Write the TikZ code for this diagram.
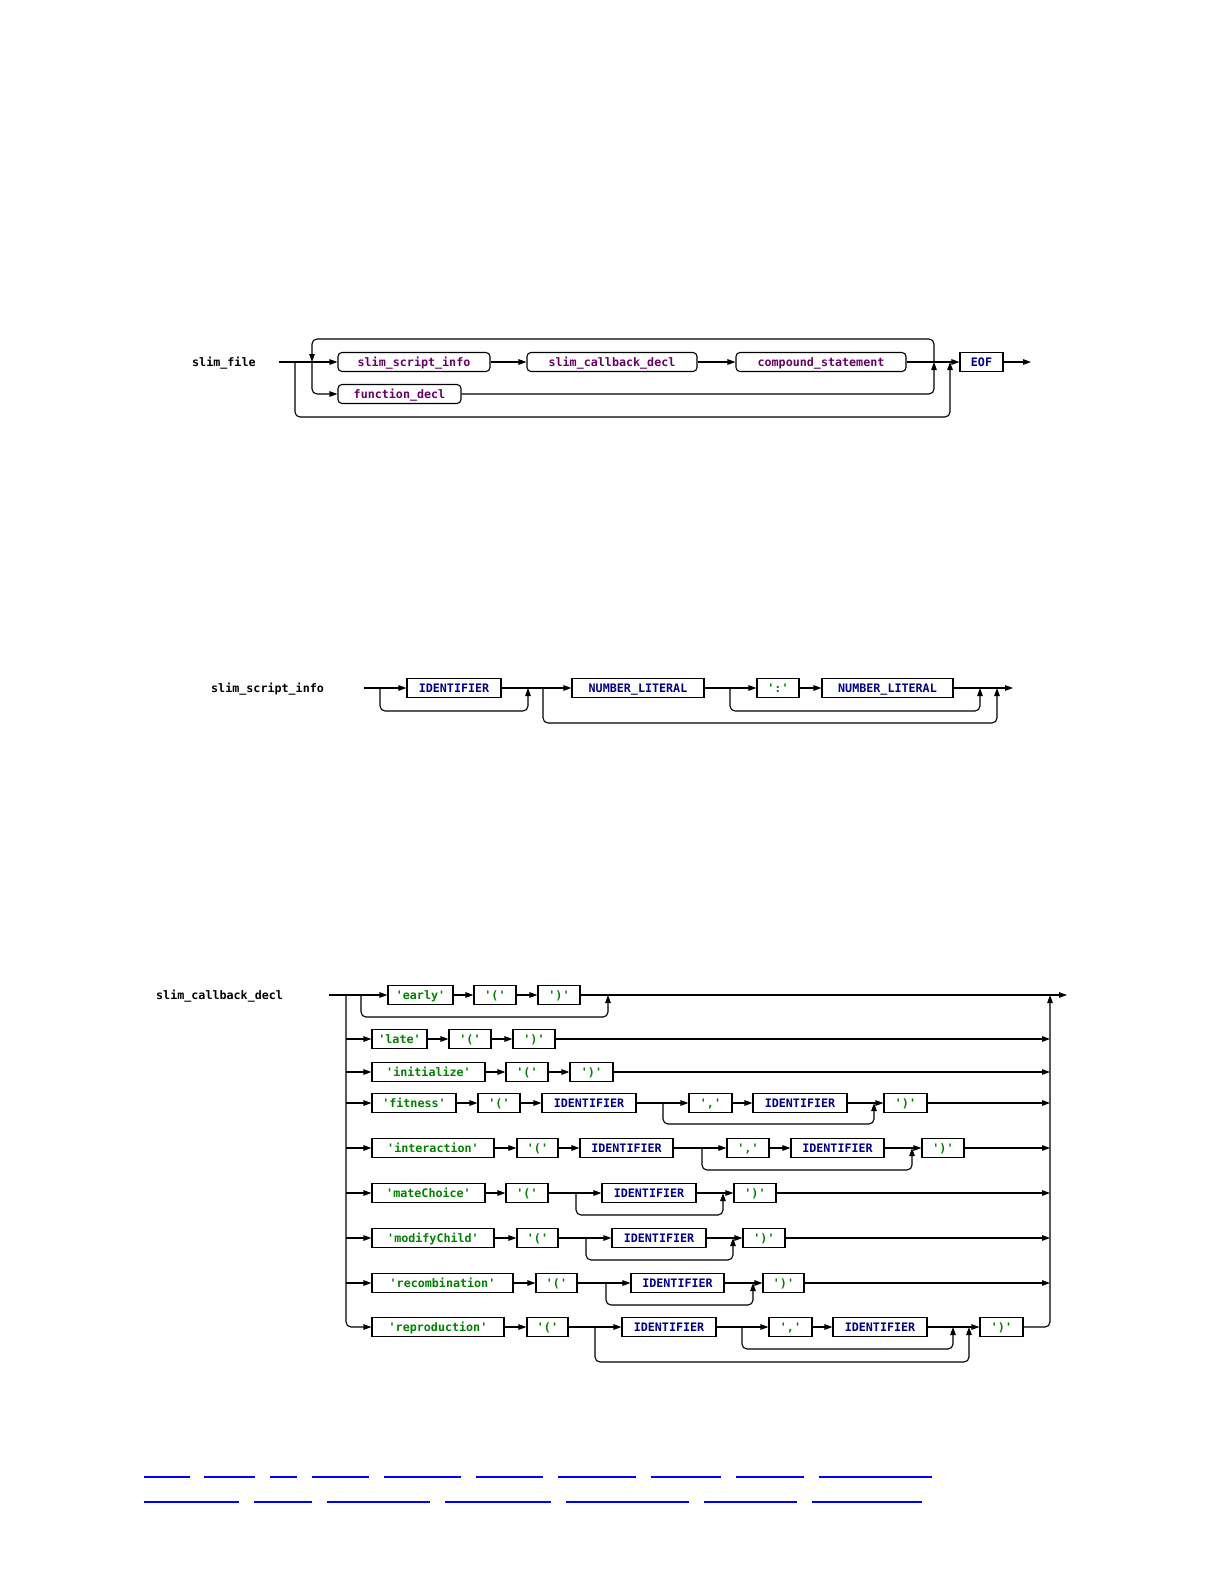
\documentclass[tikz,border=0pt]{standalone}
\usepackage{fontspec}
\newfontfamily\rrfont[BoldFont={DejaVu Sans Mono Bold}]{DejaVu Sans Mono}
\usetikzlibrary{arrows.meta}
\definecolor{ntcol}{HTML}{660066}
\definecolor{tkcol}{HTML}{000080}
\definecolor{ltcol}{HTML}{008000}
\definecolor{lnkcol}{HTML}{0000FF}
\tikzset{
  rr/.style={line width=1.1pt, -{Triangle[length=8pt,width=5.5pt]}},
  rc/.style={rounded corners=5pt},
  boxbase/.style={draw, line width=1.1pt, minimum height=19pt, inner xsep=0pt, inner ysep=0pt,
    text height=11pt, text depth=2pt,
    font=\rrfont\bfseries\fontsize{11.7}{14}\selectfont},
  ntbox/.style={boxbase, rounded corners=4pt, text=ntcol},
  tkbox/.style={boxbase, text=tkcol},
  ltbox/.style={boxbase, text=ltcol},
  lbl/.style={anchor=west, inner sep=0pt, text height=11pt, text depth=2pt,
    font=\rrfont\bfseries\fontsize{11.7}{14}\selectfont},
  lnk/.style={draw=lnkcol, line width=1.3pt}
}
\newcommand{\bx}[6]{\node[#2, minimum width={(#4-#3)*1pt}] (#1) at ({(#3+#4)/2},#5) {#6};}
\begin{document}
\begin{tikzpicture}[x=1pt,y=-1pt]
\useasboundingbox (0,0) rectangle (1224,1584);

% ---------------- slim_file ----------------
\node[lbl] (lab1) at (192,362) {slim\_file};
\coordinate (s1) at (279,362);
\coordinate (s1b) at (295,362);
\coordinate (s1c) at (312,362);
\coordinate (j1a) at (934,362);
\coordinate (j1b) at (950,362);
\coordinate (e1) at (1031,362);
\bx{ssi}{ntbox}{338}{490}{362}{slim\_script\_info}
\bx{scd}{ntbox}{527}{697}{362}{slim\_callback\_decl}
\bx{cst}{ntbox}{736}{906}{362}{compound\_statement}
\bx{fdl}{ntbox}{338}{461}{394}{function\_decl}
\bx{eof}{tkbox}{960}{1003}{362}{EOF}
\draw[rr] (s1) -- (ssi.west);
\draw[rr] (ssi.east) -- (scd.west);
\draw[rr] (scd.east) -- (cst.west);
\draw[rr] (cst.east) -- (eof.west);
\draw[rr] (eof.east) -- (e1);
\draw[rr,rc] (j1a) |- (312,339) -- (s1c);
\draw[rr,rc] (s1c) |- (fdl.west);
\draw[rr,rc] (fdl.east) -| (j1a);
\draw[rr,rc] (s1b) |- (950,417) -- (j1b);

% ---------------- slim_script_info ----------------
\node[lbl] (lab2) at (211,688) {slim\_script\_info};
\coordinate (s2) at (364,688);
\coordinate (b2a) at (380,688);
\coordinate (j2a) at (528,688);
\coordinate (b2b) at (543,688);
\coordinate (j2b) at (997,688);
\coordinate (b2c) at (730,688);
\coordinate (j2c) at (980,688);
\coordinate (e2) at (1013,688);
\bx{sid}{tkbox}{407}{501}{688}{IDENTIFIER}
\bx{snl}{tkbox}{572}{704}{688}{NUMBER\_LITERAL}
\bx{scol}{ltbox}{757}{799}{688}{':'}
\bx{snlb}{tkbox}{822}{953}{688}{NUMBER\_LITERAL}
\draw[rr] (s2) -- (sid.west);
\draw[rr,rc] (b2a) |- (528,711) -- (j2a);
\draw[rr] (sid.east) -- (snl.west);
\draw[rr,rc] (b2b) |- (997,723) -- (j2b);
\draw[rr] (snl.east) -- (scol.west);
\draw[rr,rc] (b2c) |- (980,711) -- (j2c);
\draw[rr] (scol.east) -- (snlb.west);
\draw[rr] (snlb.east) -- (e2);

% ---------------- slim_callback_decl ----------------
\node[lbl] (lab3) at (156,995) {slim\_callback\_decl};
\coordinate (s3) at (329,995);
\coordinate (v3) at (346,995);
\coordinate (b3) at (361,995);
\coordinate (j3) at (608,995);
\coordinate (r3) at (1050,995);
\coordinate (e3) at (1067,995);
% row 1
\bx{early}{ltbox}{388}{453}{995}{'early'}
\bx{lpa}{ltbox}{474}{516}{995}{'('}
\bx{rpa}{ltbox}{538}{580}{995}{')'}
\draw[rr] (s3) -- (early.west);
\draw[rr,rc] (b3) |- (608,1017) -- (j3);
\draw[rr] (early.east) -- (lpa.west);
\draw[rr] (lpa.east) -- (rpa.west);
\draw[rr] (rpa.east) -- (e3);
% row 2
\bx{late}{ltbox}{372}{427}{1039}{'late'}
\bx{lpb}{ltbox}{449}{491}{1039}{'('}
\bx{rpb}{ltbox}{513}{555}{1039}{')'}
\coordinate (vb) at (346,1039);
\coordinate (rb) at (1050,1039);
\draw[rr] (vb) -- (late.west);
\draw[rr] (late.east) -- (lpb.west);
\draw[rr] (lpb.east) -- (rpb.west);
\draw[rr] (rpb.east) -- (rb);
% row 3
\bx{init}{ltbox}{372}{485}{1072}{'initialize'}
\bx{lpc}{ltbox}{506}{548}{1072}{'('}
\bx{rpc}{ltbox}{570}{613}{1072}{')'}
\coordinate (vc) at (346,1072);
\coordinate (rcc) at (1050,1072);
\draw[rr] (vc) -- (init.west);
\draw[rr] (init.east) -- (lpc.west);
\draw[rr] (lpc.east) -- (rpc.west);
\draw[rr] (rpc.east) -- (rcc);
% row 4
\bx{fit}{ltbox}{372}{456}{1103}{'fitness'}
\bx{lpd}{ltbox}{478}{520}{1103}{'('}
\bx{idd}{tkbox}{542}{636}{1103}{IDENTIFIER}
\bx{cmd}{ltbox}{689}{732}{1103}{','}
\bx{iddb}{tkbox}{753}{847}{1103}{IDENTIFIER}
\bx{rpd}{ltbox}{884}{927}{1103}{')'}
\coordinate (vd) at (346,1103);
\coordinate (rd) at (1050,1103);
\coordinate (bd) at (663,1103);
\coordinate (jd) at (874,1103);
\draw[rr] (vd) -- (fit.west);
\draw[rr] (fit.east) -- (lpd.west);
\draw[rr] (lpd.east) -- (idd.west);
\draw[rr] (idd.east) -- (cmd.west);
\draw[rr,rc] (bd) |- (874,1124) -- (jd);
\draw[rr] (cmd.east) -- (iddb.west);
\draw[rr] (iddb.east) -- (rpd.west);
\draw[rr] (rpd.east) -- (rd);
% row 5
\bx{inter}{ltbox}{372}{494}{1148}{'interaction'}
\bx{lpe}{ltbox}{517}{558}{1148}{'('}
\bx{ide}{tkbox}{580}{673}{1148}{IDENTIFIER}
\bx{cme}{ltbox}{727}{769}{1148}{','}
\bx{ideb}{tkbox}{791}{884}{1148}{IDENTIFIER}
\bx{rpe}{ltbox}{922}{964}{1148}{')'}
\coordinate (ve) at (346,1148);
\coordinate (re) at (1050,1148);
\coordinate (be) at (702,1148);
\coordinate (je) at (912,1148);
\draw[rr] (ve) -- (inter.west);
\draw[rr] (inter.east) -- (lpe.west);
\draw[rr] (lpe.east) -- (ide.west);
\draw[rr] (ide.east) -- (cme.west);
\draw[rr,rc] (be) |- (912,1170) -- (je);
\draw[rr] (cme.east) -- (ideb.west);
\draw[rr] (ideb.east) -- (rpe.west);
\draw[rr] (rpe.east) -- (re);
% row 6
\bx{mate}{ltbox}{372}{485}{1193}{'mateChoice'}
\bx{lpf}{ltbox}{506}{548}{1193}{'('}
\bx{idf}{tkbox}{602}{696}{1193}{IDENTIFIER}
\bx{rpf}{ltbox}{734}{776}{1193}{')'}
\coordinate (vf) at (346,1193);
\coordinate (rf) at (1050,1193);
\coordinate (bf) at (576,1193);
\coordinate (jf) at (723,1193);
\draw[rr] (vf) -- (mate.west);
\draw[rr] (mate.east) -- (lpf.west);
\draw[rr] (lpf.east) -- (idf.west);
\draw[rr,rc] (bf) |- (723,1215) -- (jf);
\draw[rr] (idf.east) -- (rpf.west);
\draw[rr] (rpf.east) -- (rf);
% row 7
\bx{modc}{ltbox}{372}{494}{1238}{'modifyChild'}
\bx{lpg}{ltbox}{517}{558}{1238}{'('}
\bx{idg}{tkbox}{612}{706}{1238}{IDENTIFIER}
\bx{rpg}{ltbox}{743}{785}{1238}{')'}
\coordinate (vg) at (346,1238);
\coordinate (rg) at (1050,1238);
\coordinate (bg) at (586,1238);
\coordinate (jg) at (733,1238);
\draw[rr] (vg) -- (modc.west);
\draw[rr] (modc.east) -- (lpg.west);
\draw[rr] (lpg.east) -- (idg.west);
\draw[rr,rc] (bg) |- (733,1260) -- (jg);
\draw[rr] (idg.east) -- (rpg.west);
\draw[rr] (rpg.east) -- (rg);
% row 8
\bx{recb}{ltbox}{372}{513}{1283}{'recombination'}
\bx{lph}{ltbox}{536}{577}{1283}{'('}
\bx{idh}{tkbox}{631}{724}{1283}{IDENTIFIER}
\bx{rph}{ltbox}{763}{804}{1283}{')'}
\coordinate (vh) at (346,1283);
\coordinate (rh) at (1050,1283);
\coordinate (bh) at (606,1283);
\coordinate (jh) at (753,1283);
\draw[rr] (vh) -- (recb.west);
\draw[rr] (recb.east) -- (lph.west);
\draw[rr] (lph.east) -- (idh.west);
\draw[rr,rc] (bh) |- (753,1305) -- (jh);
\draw[rr] (idh.east) -- (rph.west);
\draw[rr] (rph.east) -- (rh);
% row 9
\bx{repr}{ltbox}{372}{504}{1327}{'reproduction'}
\bx{lpi}{ltbox}{527}{568}{1327}{'('}
\bx{idi}{tkbox}{622}{716}{1327}{IDENTIFIER}
\bx{cmi}{ltbox}{769}{812}{1327}{','}
\bx{idib}{tkbox}{833}{927}{1327}{IDENTIFIER}
\bx{rpi}{ltbox}{980}{1023}{1327}{')'}
\coordinate (bi1) at (595,1327);
\coordinate (ji1) at (969,1327);
\coordinate (bi2) at (742,1327);
\coordinate (ji2) at (953,1327);
\draw[rr,rc] (v3) |- (repr.west);
\draw[rr] (repr.east) -- (lpi.west);
\draw[rr] (lpi.east) -- (idi.west);
\draw[rr,rc] (bi1) |- (969,1362) -- (ji1);
\draw[rr] (idi.east) -- (cmi.west);
\draw[rr,rc] (bi2) |- (953,1349) -- (ji2);
\draw[rr] (cmi.east) -- (idib.west);
\draw[rr] (idib.east) -- (rpi.west);
\draw[rr,rc] (rpi.east) -| (r3);

% ---------------- link underlines ----------------
\foreach \a/\b in {144/190,204/255,270/297,312/369,384/461,476/543,558/636,651/721,736/804,819/932}
  \draw[lnk] (\a,1477) -- (\b,1477);
\foreach \a/\b in {144/239,254/312,327/430,445/551,566/689,704/797,812/922}
  \draw[lnk] (\a,1502) -- (\b,1502);
\end{tikzpicture}
\end{document}
